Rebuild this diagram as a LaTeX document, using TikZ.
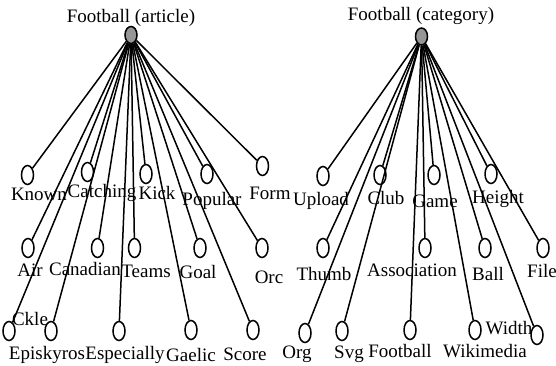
\documentclass[tikz,border=0pt]{standalone}
\usepackage{fontspec}
\setmainfont{Liberation Serif}
\usetikzlibrary{shapes.geometric}
\definecolor{rootgray}{RGB}{150,150,150}
\begin{document}
\begin{tikzpicture}[x=1pt,y=-1pt,
  leaf/.style={draw,ellipse,line width=1.5pt,minimum width=12pt,minimum height=19pt,inner sep=0pt},
  rootnode/.style={leaf,fill=rootgray,minimum height=17pt},
  lbl/.style={anchor=base,inner sep=0pt,font=\fontsize{19}{22}\selectfont},
  edge/.style={line width=1.5pt}]
\useasboundingbox (0,0) rectangle (556,366);
% left tree
\node[rootnode] (ra) at (131,35) {};
\node[lbl] (tra) at (131,23) {Football (article)};
\node[leaf] (known) at (27.5,175) {};
\node[leaf] (catching) at (87.5,172) {};
\node[leaf] (kick) at (146,174) {};
\node[leaf] (popular) at (207,174) {};
\node[leaf] (form) at (262.5,166) {};
\node[leaf] (air) at (28,248) {};
\node[leaf] (canadian) at (97.5,248) {};
\node[leaf] (teams) at (134.5,248) {};
\node[leaf] (goal) at (200,248) {};
\node[leaf] (orc) at (262,248) {};
\node[leaf] (ckle) at (9,331) {};
\node[leaf] (episkyros) at (51,331) {};
\node[leaf] (especially) at (119,331) {};
\node[leaf] (gaelic) at (191,330) {};
\node[leaf] (score) at (253,330) {};
\foreach \n in {known,catching,kick,popular,form,air,canadian,teams,goal,orc,ckle,episkyros,especially,gaelic,score}
  \draw[edge] (ra) -- (\n);
\node[lbl] (lknown) at (39,200) {Known};
\node[lbl] (lcatching) at (102,197) {Catching};
\node[lbl] (lkick) at (157,199) {Kick};
\node[lbl] (lpopular) at (212,205) {Popular};
\node[lbl] (lform) at (270,199) {Form};
\node[lbl] (lair) at (30,276) {Air};
\node[lbl] (lcanadian) at (85,275) {Canadian};
\node[lbl] (lteams) at (146,277) {Teams};
\node[lbl] (lgoal) at (198,278) {Goal};
\node[lbl] (lorc) at (269,283) {Orc};
\node[lbl] (lckle) at (30,325) {Ckle};
\node[lbl] (lepiskyros) at (47,359) {Episkyros};
\node[lbl] (lespecially) at (125,359) {Especially};
\node[lbl] (lgaelic) at (191,361) {Gaelic};
\node[lbl] (lscore) at (245,360) {Score};
% right tree
\node[rootnode] (rc) at (421.5,36.5) {};
\node[lbl] (trc) at (421,21) {Football (category)};
\node[leaf] (upload) at (323,176) {};
\node[leaf] (club) at (380,175) {};
\node[leaf] (game) at (434,175) {};
\node[leaf] (height) at (491,174) {};
\node[leaf] (thumb) at (323,248) {};
\node[leaf] (association) at (425,248) {};
\node[leaf] (ball) at (485,248) {};
\node[leaf] (file) at (543,248) {};
\node[leaf] (org) at (305,333) {};
\node[leaf] (svg) at (342,331) {};
\node[leaf] (football) at (410,330) {};
\node[leaf] (wikimedia) at (475,330) {};
\node[leaf] (width) at (537,335) {};
\foreach \n in {upload,club,game,height,thumb,association,ball,file,org,svg,football,wikimedia,width}
  \draw[edge] (rc) -- (\n);
\node[lbl] (lupload) at (321,205) {Upload};
\node[lbl] (lclub) at (386,204) {Club};
\node[lbl] (lgame) at (435,207) {Game};
\node[lbl] (lheight) at (498,203) {Height};
\node[lbl] (lthumb) at (324,280) {Thumb};
\node[lbl] (lassociation) at (412,276) {Association};
\node[lbl] (lball) at (488,280) {Ball};
\node[lbl] (lfile) at (542,277) {File};
\node[lbl] (lorg) at (297,358) {Org};
\node[lbl] (lsvg) at (349,358) {Svg};
\node[lbl] (lfootball) at (400,357) {Football};
\node[lbl] (lwikimedia) at (485,357) {Wikimedia};
\node[lbl] (lwidth) at (509,334) {Width};
\end{tikzpicture}
\end{document}
